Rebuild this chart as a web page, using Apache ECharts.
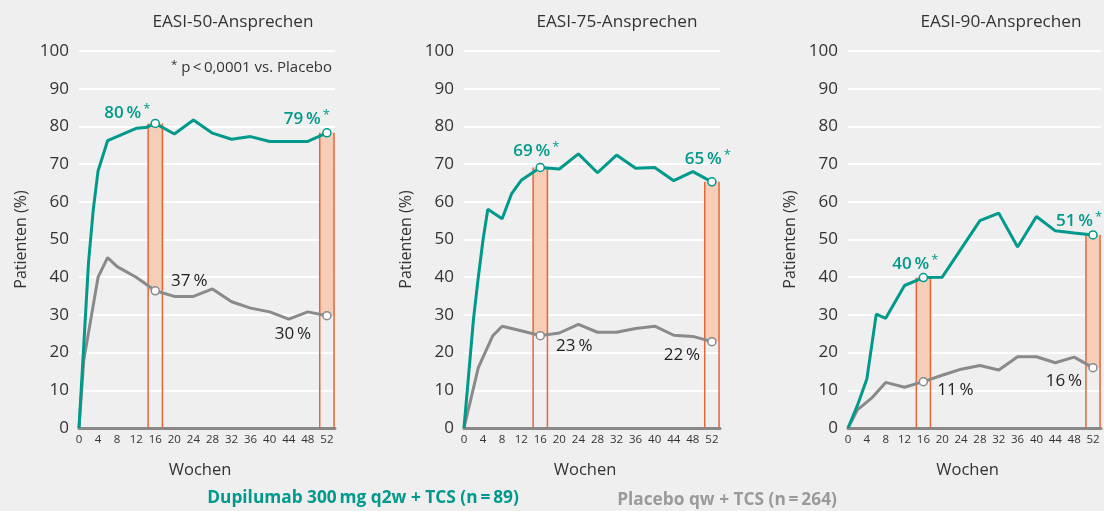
<!DOCTYPE html>
<html>
<head>
<meta charset="utf-8">
<script src="https://cdn.jsdelivr.net/npm/echarts@6/dist/echarts.min.js"></script>
<style>
  html, body { margin: 0; padding: 0; background: #efefef; }
  #chart { width: 1104px; height: 511px; }
</style>
</head>
<body>
<div id="chart"></div>
<script>
// values, [week, percent]
const easi50Dupi = [[0,0],[2,44],[3,58],[4,68.2],[6,76.2],[12,79.5],[14,79.7],[16,80.8],[20,78],[24,81.7],[28,78.2],[32,76.6],[36,77.3],[40,76],[44,76],[48,76],[52,78.3]];
const easi50Placebo = [[0,0],[1,18],[4,40],[6,45.2],[8,42.8],[12,40],[16,36.4],[20,34.9],[24,34.9],[28,36.9],[32,33.5],[36,31.8],[40,30.8],[44,28.9],[48,30.8],[52,29.8]];
const easi75Dupi = [[0,0],[2,29],[3,40],[4,50],[5,58],[8,55.5],[10,62.2],[12,65.7],[16,69.1],[20,68.7],[24,72.7],[28,67.7],[32,72.4],[36,68.9],[40,69.1],[44,65.6],[48,68],[52,65.3]];
const easi75Placebo = [[0,0],[3,16],[6,24.4],[8,27],[12,25.8],[16,24.5],[20,25.2],[24,27.5],[28,25.4],[32,25.4],[36,26.4],[40,27],[44,24.6],[48,24.3],[52,22.9]];
const easi90Dupi = [[0,0],[2,6],[4,13],[6,30.2],[8,29.1],[12,37.8],[16,39.9],[20,40],[24,47.5],[28,55],[32,57],[36,48],[40,56.1],[44,52.3],[48,51.7],[52,51.2]];
const easi90Placebo = [[0,0],[2,4.8],[5,7.9],[8,12.1],[12,10.8],[16,12.3],[20,14],[24,15.6],[28,16.6],[32,15.4],[36,18.9],[40,18.9],[44,17.3],[48,18.8],[52,16]];

const highlightWeeks = [16, 52];
const easi50Labels = { dupi: [80, 79], placebo: [37, 30] };
const easi75Labels = { dupi: [69, 65], placebo: [23, 22] };
const easi90Labels = { dupi: [40, 51], placebo: [11, 16] };
const panelTitles = ['EASI-50-Ansprechen', 'EASI-75-Ansprechen', 'EASI-90-Ansprechen'];

const TEAL = '#00998b';
const GRAY = '#8a8a8a';
const FONT = '"Open Sans", "Noto Sans", sans-serif';

const panels = [
  { title: panelTitles[0], dupi: easi50Dupi, placebo: easi50Placebo, labels: easi50Labels, left: 79, titleX: 233,
    dupiOff: [[-28, -10], [-20, -14]], placeboOff: [[34, -10], [-34, 19]] },
  { title: panelTitles[1], dupi: easi75Dupi, placebo: easi75Placebo, labels: easi75Labels, left: 464, titleX: 617,
    dupiOff: [[-4, -16], [-4, -23]], placeboOff: [[34, 11], [-30, 13]] },
  { title: panelTitles[2], dupi: easi90Dupi, placebo: easi90Placebo, labels: easi90Labels, left: 848, titleX: 1001,
    dupiOff: [[-8, -13], [-14, -14]], placeboOff: [[32, 9], [-29, 13]] }
];

function valueAt(arr, w) {
  const p = arr.find(d => d[0] === w);
  return p ? p[1] : null;
}

const grid = [], xAxis = [], yAxis = [], series = [], graphic = [];

panels.forEach((p, i) => {
  grid.push({ left: p.left, top: 51, width: 256, height: 377 });
  xAxis.push({
    type: 'value', gridIndex: i, min: 0, max: 53.7, interval: 4,
    name: 'Wochen', nameLocation: 'middle', nameGap: 34,
    nameTextStyle: { fontFamily: FONT, fontSize: 16.5, color: '#333', padding: [0, 14, 0, 0] },
    axisLine: { lineStyle: { color: '#888', width: 3 } },
    axisTick: { show: false },
    splitLine: { show: false },
    axisLabel: {
      fontFamily: FONT, fontSize: 11.5, color: '#333', margin: 6,
      formatter: v => (v % 4 === 0 ? String(v) : '')
    }
  });
  yAxis.push({
    type: 'value', gridIndex: i, min: 0, max: 100, interval: 10,
    name: 'Patienten (%)', nameLocation: 'middle', nameGap: 50,
    nameTextStyle: { fontFamily: FONT, fontSize: 16, color: '#333' },
    axisLine: { show: false }, axisTick: { show: false },
    axisLabel: { fontFamily: FONT, fontSize: 17, color: '#333', margin: 10 },
    splitLine: { lineStyle: { color: '#ffffff', width: 2 } }
  });

  // treatment-difference bars at week 16 and 52
  series.push({
    type: 'custom', xAxisIndex: i, yAxisIndex: i, z: 1, clip: false,
    data: highlightWeeks.map(w => [w, valueAt(p.placebo, w), valueAt(p.dupi, w)]),
    renderItem: (params, api) => {
      const w = api.value(0), lo = api.value(1), hi = api.value(2);
      const tl = api.coord([w - 1.5, hi]);
      const br = api.coord([w + 1.5, lo]);
      const bl0 = api.coord([w - 1.5, 0]);
      const br0 = api.coord([w + 1.5, 0]);
      const stroke = { stroke: '#e2673b', lineWidth: 1.5 };
      return {
        type: 'group',
        children: [
          { type: 'rect', shape: { x: tl[0], y: tl[1], width: br[0] - tl[0], height: br[1] - tl[1] }, style: { fill: '#f6cdb6' } },
          { type: 'line', shape: { x1: bl0[0], y1: bl0[1], x2: tl[0], y2: tl[1] }, style: stroke },
          { type: 'line', shape: { x1: br0[0], y1: br0[1], x2: br0[0], y2: tl[1] }, style: stroke }
        ]
      };
    }
  });

  series.push({
    name: 'Dupilumab', type: 'line', xAxisIndex: i, yAxisIndex: i, z: 3,
    data: p.dupi, symbol: 'none', lineStyle: { color: TEAL, width: 3 }, itemStyle: { color: TEAL }
  });
  series.push({
    name: 'Placebo', type: 'line', xAxisIndex: i, yAxisIndex: i, z: 2,
    data: p.placebo, symbol: 'none', lineStyle: { color: GRAY, width: 3 }, itemStyle: { color: GRAY }
  });

  // open markers with value labels
  series.push({
    type: 'scatter', xAxisIndex: i, yAxisIndex: i, z: 5,
    symbol: 'circle', symbolSize: 8,
    itemStyle: { color: '#fff', borderColor: TEAL, borderWidth: 1.5, opacity: 1 },
    data: highlightWeeks.map((w, k) => ({
      value: [w, valueAt(p.dupi, w)],
      label: { offset: p.dupiOff[k] },
      pct: p.labels.dupi[k]
    })),
    label: {
      show: true, position: 'inside', textBorderWidth: 0, color: TEAL,
      formatter: d => '{a|' + d.data.pct + '\u2009%}{b|*}',
      rich: {
        a: { fontFamily: FONT, fontSize: 17, fontWeight: 600, color: TEAL, textBorderWidth: 0 },
        b: { fontFamily: FONT, fontSize: 13, color: TEAL, textBorderWidth: 0, verticalAlign: 'top', padding: [0, 0, 8, 2] }
      }
    }
  });
  series.push({
    type: 'scatter', xAxisIndex: i, yAxisIndex: i, z: 5,
    symbol: 'circle', symbolSize: 8,
    itemStyle: { color: '#fff', borderColor: GRAY, borderWidth: 1.5, opacity: 1 },
    data: highlightWeeks.map((w, k) => ({
      value: [w, valueAt(p.placebo, w)],
      label: { offset: p.placeboOff[k] },
      pct: p.labels.placebo[k]
    })),
    label: {
      show: true, position: 'inside', textBorderWidth: 0, color: '#222',
      formatter: d => '{a|' + d.data.pct + '\u2009%}',
      rich: { a: { fontFamily: FONT, fontSize: 17, color: '#222', textBorderWidth: 0 } }
    }
  });

  graphic.push({
    type: 'text', x: p.titleX, y: 22,
    style: { text: p.title, font: '17.2px ' + FONT, fill: '#333', align: 'center', verticalAlign: 'middle' }
  });
});

graphic.push({
  type: 'text', x: 332, y: 68,
  style: {
    text: '{s|*} p\u2009<\u20090,0001 vs. Placebo',
    align: 'right', verticalAlign: 'middle',
    font: '15px ' + FONT, fill: '#333',
    rich: { s: { fontSize: 11.5, fontFamily: FONT, fill: '#333', padding: [0, 0, 6, 0] } }
  }
});
graphic.push({
  type: 'text', x: 363, y: 498,
  style: { text: 'Dupilumab 300\u2009mg q2w + TCS (n\u2009=\u200989)', font: 'bold 17.3px ' + FONT, fill: TEAL, align: 'center', verticalAlign: 'middle' }
});
graphic.push({
  type: 'text', x: 727, y: 500,
  style: { text: 'Placebo qw + TCS (n\u2009=\u2009264)', font: 'bold 17.3px ' + FONT, fill: '#9a9a9a', align: 'center', verticalAlign: 'middle' }
});

const chart = echarts.init(document.getElementById('chart'), null, { renderer: 'canvas' });
chart.setOption({
  backgroundColor: '#efefef',
  animation: false,
  grid, xAxis, yAxis, series, graphic
});
</script>
</body>
</html>
